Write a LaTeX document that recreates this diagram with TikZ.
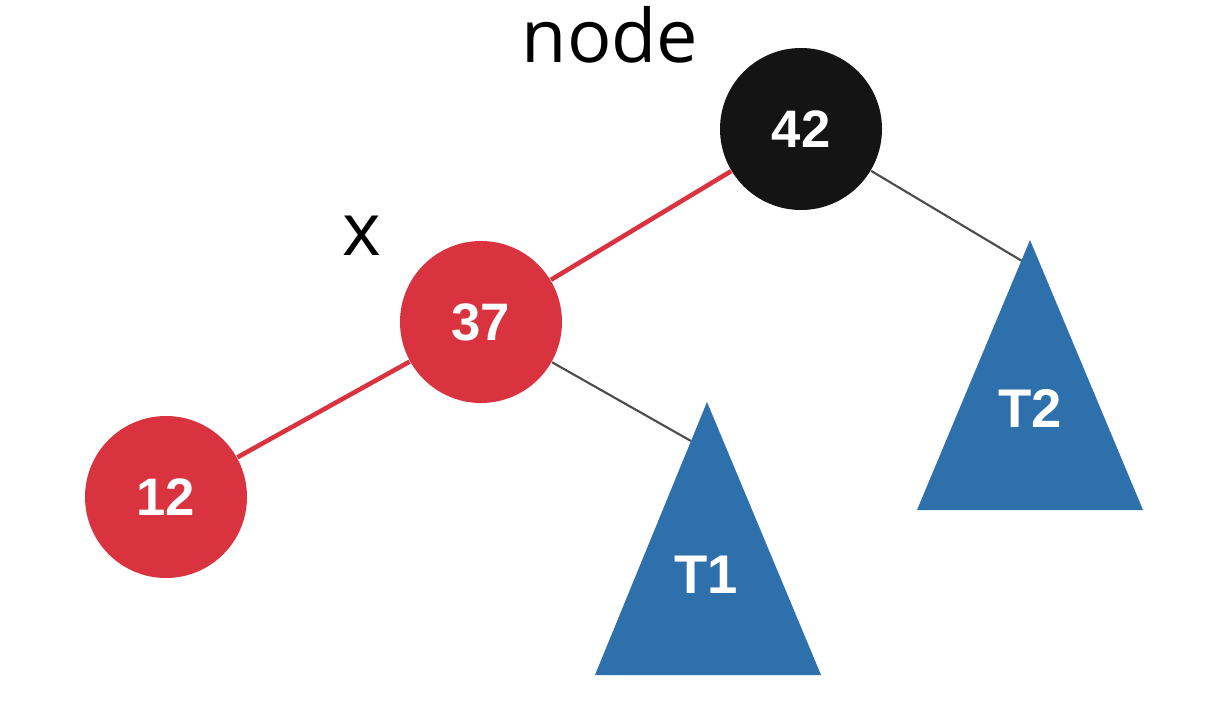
\documentclass[tikz,border=0pt]{standalone}
\usepackage{fontspec}
\setmainfont{Open Sans}
\newfontfamily\numfont{Liberation Sans}
\usetikzlibrary{calc,positioning}
\definecolor{rbred}{rgb}{0.85,0.20,0.25}
\definecolor{rbblack}{rgb}{0.08,0.08,0.08}
\definecolor{treeblue}{rgb}{0.18,0.44,0.67}
\definecolor{edgegray}{rgb}{0.30,0.30,0.30}
\tikzset{
  rojo/.style={
    circle,
    fill=rbred,
    minimum size=1.62cm,
    inner sep=0pt,
    text=white,
    font=\numfont\fontsize{15}{18}\selectfont\bfseries
  },
  negro/.style={
    rojo,
    fill=rbblack
  },
  etiqueta/.style={
    anchor=base,
    font=\fontsize{21}{25}\selectfont
  },
  subarbol/.style={
    fill=treeblue
  },
  rama/.style={
    line width=1.3pt,
    rbred
  },
  hoja/.style={
    line width=0.6pt,
    edgegray
  }
}

\begin{document}
\begin{tikzpicture}
\useasboundingbox (0,0) rectangle (12.21,7.21);
\node[negro] (n42) at (8.01,5.92) {42};
\node[rojo] (n37) at (4.81,3.99) {37};
\node[rojo] (n12) at (1.66,2.24) {12};
\node[etiqueta] (lnode) at (6.10,6.58) {node};
\node[etiqueta] (lx) at (3.62,4.66) {x};
% subarboles
\coordinate (t1in) at (6.91,2.80);
\coordinate (t2in) at (10.22,4.60);
\draw[hoja] (n37) -- (t1in);
\draw[hoja] (n42) -- (t2in);
\fill[subarbol] (7.07,3.19) -- (5.95,0.46) -- (8.21,0.46) -- cycle;
\fill[subarbol] (10.30,4.81) -- (9.17,2.11) -- (11.43,2.11) -- cycle;
\node[text=white, font=\numfont\fontsize{15.5}{18}\selectfont\bfseries] (t1) at (7.06,1.46) {T1};
\node[text=white, font=\numfont\fontsize{15.5}{18}\selectfont\bfseries] (t2) at (10.30,3.13) {T2};
\draw[rama] (n42) -- (n37);
\draw[rama] (n37) -- (n12);
\end{tikzpicture}
\end{document}
